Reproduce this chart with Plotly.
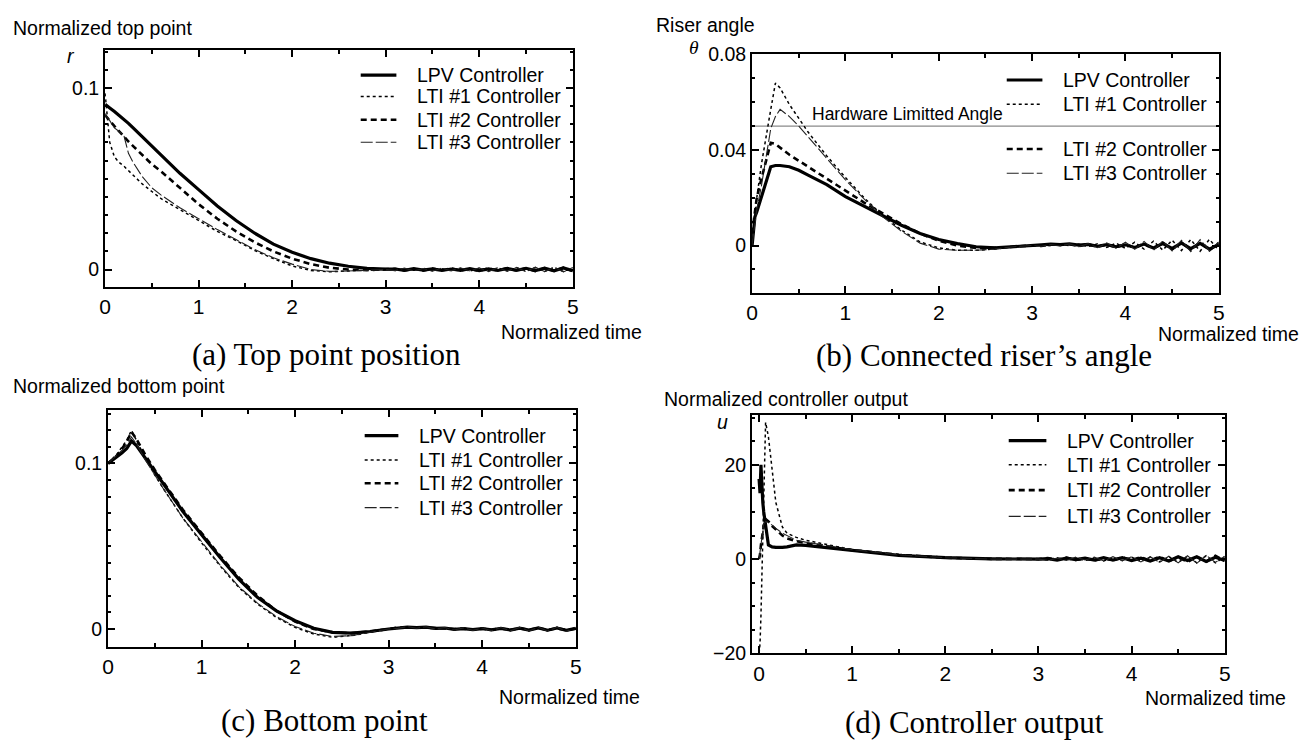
import plotly.graph_objects as go

W, H = 1309, 747

# ---------------- data ----------------
series_names = ["LPV Controller", "LTI #1 Controller", "LTI #2 Controller", "LTI #3 Controller"]
x_ticks = [0, 1, 2, 3, 4, 5]

tail_time = [3.1, 3.2, 3.3, 3.4, 3.5, 3.6, 3.7, 3.8, 3.9, 4.0,
             4.1, 4.2, 4.3, 4.4, 4.5, 4.6, 4.7, 4.8, 4.9, 5.0]

# (a) top point position r
time_a = [0, 0.02, 0.05, 0.1, 0.15, 0.2, 0.25, 0.3, 0.4, 0.5, 0.6, 0.8, 1.0, 1.2, 1.4,
          1.6, 1.8, 2.0, 2.2, 2.4, 2.6, 2.8, 3.0] + tail_time
lpv_a = [0.091, 0.090, 0.089, 0.087, 0.085, 0.083, 0.0805, 0.078, 0.073, 0.068, 0.063, 0.053,
         0.044, 0.035, 0.027, 0.020, 0.014, 0.0095, 0.006, 0.0035, 0.0018, 0.0007, 0.0002,
         0.0003, -0.0004, 0.0005, -0.0003, 0.0004, -0.0005, 0.0003, -0.0004, 0.0005, -0.0006,
         0.0004, -0.0005, 0.0006, -0.0004, 0.0007, -0.0006, 0.0008, -0.0007, 0.0009, -0.0006]
lti1_a = [0.097, 0.085, 0.070, 0.062, 0.059, 0.057, 0.0545, 0.052, 0.047, 0.043, 0.039, 0.033,
          0.027, 0.021, 0.016, 0.0105, 0.006, 0.002, -0.0005, -0.0012, -0.0008, -0.0003, 0.0,
          -0.0005, 0.0006, -0.0004, 0.0007, -0.0006, 0.0005, -0.0007, 0.0006, -0.0008, 0.0007,
          -0.0006, 0.0009, -0.0008, 0.0010, -0.0009, 0.0011, -0.0010, 0.0012, -0.0011, 0.0010]
lti2_a = [0.085, 0.084, 0.082, 0.079, 0.076, 0.073, 0.0705, 0.068, 0.063, 0.058, 0.054, 0.045,
          0.036, 0.028, 0.021, 0.015, 0.010, 0.006, 0.003, 0.001, 0.0, -0.0003, 0.0,
          0.0004, -0.0005, 0.0003, -0.0006, 0.0005, -0.0004, 0.0006, -0.0005, 0.0004, -0.0007,
          0.0006, -0.0005, 0.0008, -0.0006, 0.0007, -0.0009, 0.0008, -0.0007, 0.0010, -0.0008]
lti3_a = [0.086, 0.084, 0.082, 0.078, 0.076, 0.074, 0.064, 0.059, 0.051, 0.045, 0.041, 0.034,
          0.028, 0.022, 0.0165, 0.011, 0.0065, 0.003, 0.0, -0.001, -0.0008, -0.0003, 0.0,
          -0.0006, 0.0008, -0.0007, 0.0006, -0.0009, 0.0008, -0.0007, 0.0010, -0.0008, 0.0009,
          -0.0011, 0.0010, -0.0009, 0.0012, -0.0011, 0.0013, -0.0012, 0.0014, -0.0013, 0.0012]

# (b) connected riser's angle theta
hardware_limit = 0.05
time_b = [0, 0.03, 0.05, 0.1, 0.15, 0.2, 0.25, 0.3, 0.4, 0.5, 0.6, 0.8, 1.0, 1.2, 1.4,
          1.6, 1.8, 2.0, 2.2, 2.4, 2.6, 2.8, 3.0] + tail_time
lpv_b = [0.0, 0.012, 0.014, 0.020, 0.026, 0.033, 0.0335, 0.0335, 0.033, 0.0315, 0.0295, 0.0255,
         0.0205, 0.0165, 0.0125, 0.0085, 0.005, 0.0025, 0.0008, -0.0005, -0.001, -0.0006, 0.0,
         0.0003, 0.0006, 0.0004, 0.0007, 0.0002, 0.0005, -0.0003, 0.0004, -0.0005, 0.0003,
         -0.0008, 0.0006, -0.0010, 0.0008, -0.0012, 0.0010, -0.0013, 0.0009, -0.0015, 0.0005]
lti1_b = [0.0, 0.012, 0.020, 0.034, 0.046, 0.057, 0.068, 0.066, 0.059, 0.053, 0.0475, 0.0375,
          0.0285, 0.020, 0.0125, 0.0065, 0.0015, -0.001, -0.002, -0.002, -0.0015, -0.0005, 0.0,
          0.0002, -0.0001, 0.0005, 0.0, 0.0006, -0.0004, 0.0007, -0.0008, 0.0010, -0.0012,
          0.0014, -0.0015, 0.0018, -0.0019, 0.0022, -0.0021, 0.0025, -0.0024, 0.0026, -0.0020]
lti2_b = [0.005, 0.015, 0.020, 0.028, 0.036, 0.043, 0.0425, 0.041, 0.038, 0.0355, 0.033, 0.028,
          0.023, 0.018, 0.0135, 0.009, 0.005, 0.002, 0.0, -0.001, -0.001, -0.0005, 0.0,
          -0.0002, 0.0005, 0.0002, 0.0006, -0.0002, 0.0006, -0.0006, 0.0005, -0.0008, 0.0007,
          -0.0011, 0.0009, -0.0014, 0.0012, -0.0016, 0.0013, -0.0018, 0.0014, -0.0020, 0.0010]
lti3_b = [0.0, 0.008, 0.015, 0.025, 0.038, 0.049, 0.054, 0.057, 0.054, 0.050, 0.0455, 0.0365,
          0.0275, 0.0195, 0.012, 0.006, 0.001, -0.0015, -0.002, -0.002, -0.0015, -0.0005, 0.0,
          -0.0003, 0.0004, -0.0002, 0.0007, -0.0005, 0.0008, -0.0009, 0.0011, -0.0012, 0.0014,
          -0.0016, 0.0017, -0.0020, 0.0019, -0.0023, 0.0022, -0.0026, 0.0025, -0.0022, 0.0015]

# (c) bottom point
time_c = [0, 0.05, 0.1, 0.15, 0.2, 0.25, 0.3, 0.4, 0.5, 0.6, 0.8, 1.0, 1.2, 1.4, 1.6,
          1.8, 2.0, 2.2, 2.4, 2.6, 2.8, 3.0] + tail_time
lpv_c = [0.1, 0.102, 0.104, 0.1065, 0.109, 0.1135, 0.111, 0.103, 0.095, 0.087, 0.071, 0.057,
         0.043, 0.030, 0.019, 0.011, 0.005, 0.0005, -0.002, -0.0025, -0.0015, 0.0,
         0.0008, 0.0012, 0.0009, 0.0011, 0.0004, 0.0006, -0.0002, 0.0003, -0.0004, 0.0003,
         -0.0005, 0.0004, -0.0006, 0.0005, -0.0006, 0.0007, -0.0007, 0.0006, -0.0008, 0.0004]
lti1_c = [0.1, 0.103, 0.106, 0.110, 0.114, 0.120, 0.114, 0.103, 0.093, 0.084, 0.067, 0.052,
          0.038, 0.025, 0.015, 0.007, 0.001, -0.003, -0.005, -0.004, -0.002, 0.0,
          0.0005, 0.0014, 0.0006, 0.0013, 0.0002, 0.0008, -0.0005, 0.0006, -0.0007, 0.0005,
          -0.0009, 0.0008, -0.0010, 0.0009, -0.0011, 0.0010, -0.0012, 0.0011, -0.0013, 0.0008]
lti2_c = [0.1, 0.1025, 0.105, 0.109, 0.113, 0.119, 0.115, 0.105, 0.096, 0.088, 0.072, 0.058,
          0.044, 0.031, 0.020, 0.011, 0.0045, 0.0, -0.002, -0.0025, -0.0015, 0.0,
          0.0009, 0.0011, 0.0010, 0.0009, 0.0005, 0.0004, 0.0, 0.0002, -0.0003, 0.0002,
          -0.0004, 0.0003, -0.0005, 0.0004, -0.0005, 0.0006, -0.0006, 0.0005, -0.0007, 0.0003]
lti3_c = [0.1, 0.1025, 0.105, 0.108, 0.111, 0.116, 0.112, 0.102, 0.093, 0.084, 0.067, 0.0525,
          0.0385, 0.0255, 0.0155, 0.0075, 0.0015, -0.0025, -0.0045, -0.004, -0.002, 0.0,
          0.0004, 0.0015, 0.0005, 0.0014, 0.0, 0.0009, -0.0006, 0.0007, -0.0008, 0.0006,
          -0.0010, 0.0009, -0.0011, 0.0010, -0.0012, 0.0011, -0.0013, 0.0012, -0.0014, 0.0009]

# (d) controller output u
time_d = [0, 0.01, 0.02, 0.03, 0.04, 0.05, 0.07, 0.1, 0.14, 0.18, 0.25, 0.3, 0.4, 0.5,
          0.7, 1.0, 1.5, 2.0, 2.5, 3.0] + tail_time
lpv_d = [17, 14, 20, 15, 12, 10, 7, 3.0, 2.6, 2.5, 2.5, 2.6, 3.0, 2.9, 2.5, 1.8, 0.8, 0.3, 0.05, 0.0,
         0.1, -0.2, 0.2, -0.1, 0.2, -0.2, 0.3, -0.2, 0.3, -0.3,
         0.2, -0.4, 0.3, -0.4, 0.5, -0.3, 0.5, -0.5, 0.4, -0.3]
lti1_d = [-20, -18, -12, -4, 5, 15, 29, 26, 19, 12, 6.8, 5.5, 4.6, 4.0, 3.2, 2.0, 0.9, 0.3, 0.0, 0.0,
          -0.2, 0.3, -0.2, 0.3, -0.3, 0.2, -0.4, 0.3, -0.3, 0.4,
          -0.5, 0.4, -0.6, 0.5, -0.7, 0.6, -0.8, 0.7, -0.8, 0.5]
lti2_d = [0, 1, 3, 4.5, 6, 7, 8.5, 8.0, 7.0, 6.2, 5.0, 4.4, 3.8, 3.4, 2.8, 1.9, 0.9, 0.3, 0.05, 0.0,
          0.2, -0.1, 0.3, -0.2, 0.1, -0.3, 0.2, -0.3, 0.4, -0.2,
          0.4, -0.3, 0.5, -0.4, 0.4, -0.6, 0.5, -0.6, 0.7, -0.4]
lti3_d = [0, 1.5, 3.5, 5, 6.5, 7.5, 8.0, 7.8, 7.2, 6.5, 5.5, 5.0, 4.0, 3.6, 3.0, 2.0, 0.9, 0.3, 0.0, 0.0,
          -0.3, 0.2, -0.3, 0.4, -0.2, 0.4, -0.4, 0.5, -0.4, 0.5,
          -0.6, 0.5, -0.7, 0.6, -0.8, 0.7, -0.9, 0.8, -0.7, 0.6]

# ---------------- styling ----------------
SANS = "Liberation Sans, Arial, sans-serif"
SERIF = "Liberation Serif, Times New Roman, serif"
styles = [
    dict(color="black", width=3.2, dash="solid"),
    dict(color="black", width=1.5, dash="dot"),
    dict(color="black", width=2.6, dash="6px,4px"),
    dict(color="#222", width=1.1, dash="12px,3px"),
]


def px_x(x):
    return x / W


def px_y(y):
    return 1 - y / H


fig = go.Figure()

panels = [
    ("x", "y", time_a, [lpv_a, lti1_a, lti2_a, lti3_a]),
    ("x2", "y2", time_b, [lpv_b, lti1_b, lti2_b, lti3_b]),
    ("x3", "y3", time_c, [lpv_c, lti1_c, lti2_c, lti3_c]),
    ("x4", "y4", time_d, [lpv_d, lti1_d, lti2_d, lti3_d]),
]

# hardware limit line in (b)
fig.add_trace(go.Scatter(x=[0, 5], y=[hardware_limit, hardware_limit], mode="lines",
                         line=dict(color="#8a8a8a", width=1.2), xaxis="x2", yaxis="y2",
                         showlegend=False, hoverinfo="skip", name="Hardware Limitted Angle"))

for xa, ya, t, series in panels:
    for i, (name, vals) in enumerate(zip(series_names, series)):
        fig.add_trace(go.Scatter(x=t, y=vals, mode="lines", name=name, line=styles[i],
                                 xaxis=xa, yaxis=ya, showlegend=False))

# ---------------- axes ----------------
domains = {
    "a": ((100, 572), (41, 285)),
    "b": ((753, 1224), (45, 291)),
    "c": ((103, 575), (412, 655)),
    "d": ((753, 1230), (417, 662)),
}
yranges = {"a": [-0.0096, 0.121], "b": [-0.0198, 0.0803], "c": [-0.0106, 0.132], "d": [-20, 30.5]}
ydt = {"a": (0.1, 0.01), "b": (0.04, 0.01), "c": (0.1, 0.01), "d": (20, 5)}
xranges = {"a": [0, 5], "b": [0, 5], "c": [0, 5], "d": [-0.075, 5.0]}

common = dict(showline=True, linecolor="black", linewidth=2, mirror="ticks", showgrid=False,
              zeroline=False, ticks="inside", tickcolor="black", tickwidth=2, ticklen=7)

layout = {}
for key, suf in [("a", ""), ("b", "2"), ("c", "3"), ("d", "4")]:
    (x0, x1), (y0, y1) = domains[key]
    layout["xaxis" + suf] = dict(
        domain=[px_x(x0), px_x(x1)], range=xranges[key], anchor="y" + suf,
        tickmode="array", tickvals=x_ticks, ticktext=[str(v) for v in x_ticks],
        tickfont=dict(family=SANS, size=21, color="black"),
        minor=dict(dtick=0.5, tick0=0, ticks="inside", ticklen=4, tickcolor="black", tickwidth=1.5),
        **common)
    dt, mdt = ydt[key]
    layout["yaxis" + suf] = dict(
        domain=[px_y(y1), px_y(y0)], range=yranges[key], anchor="x" + suf,
        tickmode="linear", tick0=0, dtick=dt,
        tickfont=dict(family=SANS, size=19.5, color="black"),
        minor=dict(dtick=mdt, tick0=0, ticks="inside", ticklen=3, tickcolor="black", tickwidth=1.5),
        **common)


def ann(text, x, y, size=19.5, family=SANS, xanchor="left", yanchor="middle"):
    return dict(text=text, x=px_x(x), y=px_y(y), xref="paper", yref="paper", showarrow=False,
                xanchor=xanchor, yanchor=yanchor, font=dict(family=family, size=size, color="black"))


annotations = [
    ann("Normalized top point", 5, 19),
    ann("<i>r</i>", 60, 47),
    ann("Normalized time", 644, 331, xanchor="right"),
    ann("(a) Top point position", 323, 354, size=31, family=SERIF, xanchor="center"),

    ann("Riser angle", 654, 15),
    ann("<i>θ</i>", 694, 39, size=19.5, family=SERIF, xanchor="center"),
    ann("Normalized time", 1307, 333, xanchor="right"),
    ann("(b) Connected riser’s angle", 987, 356, size=31, family=SERIF, xanchor="center"),
    dict(text="Hardware Limitted Angle", x=0.62, y=hardware_limit, xref="x2", yref="y2",
         showarrow=False, xanchor="left", yanchor="bottom", yshift=0,
         font=dict(family=SANS, size=17.5, color="black")),

    ann("Normalized bottom point", 5, 387),
    ann("Normalized time", 642, 707, xanchor="right"),
    ann("(c) Bottom point", 321, 731, size=31, family=SERIF, xanchor="center"),

    ann("Normalized controller output", 662, 400),
    ann("<i>u</i>", 716, 424),
    ann("Normalized time", 1294, 708, xanchor="right"),
    ann("(d) Controller output", 977, 733, size=31, family=SERIF, xanchor="center"),
]

# legend boxes drawn per panel: (sample x0, sample x1, text x, row y positions)
legend_specs = [
    (358, 394, 413, [67, 89, 113, 136]),
    (1010, 1046, 1065, [72, 97, 143, 168]),
    (362, 396, 415, [438, 463, 487, 512]),
    (1012, 1050, 1069, [443, 468, 494, 521]),
]
shapes = []
for sx0, sx1, tx, rows in legend_specs:
    for i, (name, ry) in enumerate(zip(series_names, rows)):
        shapes.append(dict(type="line", xref="paper", yref="paper",
                           x0=px_x(sx0), x1=px_x(sx1), y0=px_y(ry), y1=px_y(ry),
                           line=styles[i]))
        annotations.append(ann(name, tx, ry))

fig.update_layout(width=W, height=H, margin=dict(l=0, r=0, t=0, b=0), paper_bgcolor="white",
                  plot_bgcolor="white", annotations=annotations, shapes=shapes,
                  showlegend=False, **layout)

fig.write_html("out.html",
               post_script="document.body.style.margin='0px';document.body.style.overflow='hidden';")
